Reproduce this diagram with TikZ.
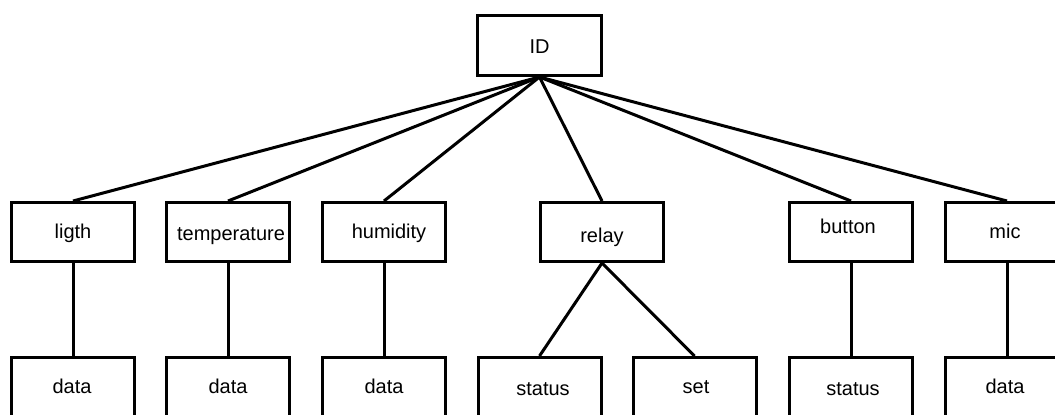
\documentclass[tikz,border=0pt]{standalone}
\usepackage{fontspec}
\setmainfont{Liberation Sans}
\begin{document}
\begin{tikzpicture}[x=1pt,y=-1pt,
  box/.style={draw=black,line width=3pt,fill=white,minimum width=123pt,minimum height=59pt,inner sep=0pt},
  lbl/.style={anchor=base,inner sep=0pt,font=\fontsize{20}{24}\selectfont},
  link/.style={draw=black,line width=3pt}]
\useasboundingbox (0,0) rectangle (1055,415);
% root
\node[box,minimum width=124pt,minimum height=60pt] (id) at (539.5,45.5) {};
% first level
\node[box] (ligth) at (73,232) {};
\node[box] (temp)  at (228,232) {};
\node[box] (hum)   at (384,232) {};
\node[box] (relay) at (602,232) {};
\node[box] (btn)   at (851,232) {};
\node[box] (mic)   at (1007,232) {};
% second level
\node[box] (d1) at (73,387) {};
\node[box] (d2) at (228,387) {};
\node[box] (d3) at (384,387) {};
\node[box] (rs) at (539.5,387) {};
\node[box] (rset) at (694.5,387) {};
\node[box] (bs) at (851,387) {};
\node[box] (md) at (1007,387) {};
% connectors
\foreach \c in {ligth,temp,hum,relay,btn,mic}
  \draw[link] (id.south) -- (\c.north);
\draw[link] (ligth.south) -- (d1.north);
\draw[link] (temp.south) -- (d2.north);
\draw[link] (hum.south) -- (d3.north);
\draw[link] (relay.south) -- (rs.north);
\draw[link] (relay.south) -- (rset.north);
\draw[link] (btn.south) -- (bs.north);
\draw[link] (mic.south) -- (md.north);
% labels
\node[lbl] (tid) at (539.5,53) {ID};
\node[lbl] (tligth) at (73,238) {ligth};
\node[lbl] (ttemp) at (231,240) {temperature};
\node[lbl] (thum) at (389,238) {humidity};
\node[lbl] (trelay) at (602,242) {relay};
\node[lbl] (tbtn) at (848,233) {button};
\node[lbl] (tmic) at (1005,238) {mic};
\node[lbl] (td1) at (72,393) {data};
\node[lbl] (td2) at (228,393) {data};
\node[lbl] (td3) at (384,393) {data};
\node[lbl] (trs) at (543,395) {status};
\node[lbl] (trset) at (696,393) {set};
\node[lbl] (tbs) at (853,395) {status};
\node[lbl] (tmd) at (1005,393) {data};
\end{tikzpicture}
\end{document}
